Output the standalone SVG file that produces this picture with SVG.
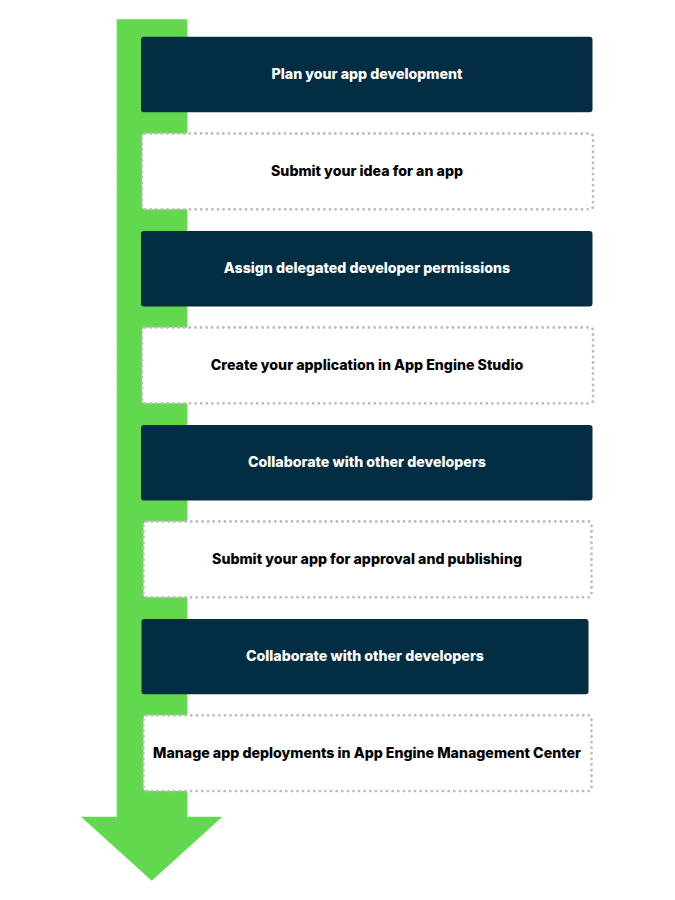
<svg xmlns="http://www.w3.org/2000/svg" width="675" height="900" viewBox="0 0 675 900">
<style>
.dark{fill:#032d42;}
.dot{fill:#ffffff;stroke:#bababa;stroke-width:2.8;stroke-dasharray:0 5.6;stroke-linecap:round;}
.tw{font-family:Inter,"Liberation Sans",sans-serif;font-weight:800;font-size:14.2px;fill:#ffffff;text-anchor:middle;}
.tb{font-family:Inter,"Liberation Sans",sans-serif;font-weight:800;font-size:14.2px;fill:#000000;text-anchor:middle;}
</style>
<rect width="675" height="900" fill="#ffffff"/>
<g id="arrow">
<polygon points="116.7,19.3 187.3,19.3 187.3,816.7 222.3,816.7 151.8,880.7 81,816.7 116.7,816.7" fill="#62d84e"/>
</g>
<g id="connectors"></g>
<g id="n1"><rect class="dark" x="141" y="36.7" width="451.5" height="75.6" rx="3"/><text class="tw" x="367" y="79.3">Plan your app development</text></g>
<g id="n2"><rect class="dot" x="142" y="133.5" width="451" height="75.8" rx="3"/><text class="tb" x="367" y="176">Submit your idea for an app</text></g>
<g id="n3"><rect class="dark" x="141" y="231" width="451.5" height="75.6" rx="3"/><text class="tw" x="367" y="273.3">Assign delegated developer permissions</text></g>
<g id="n4"><rect class="dot" x="142" y="327.5" width="451" height="75.8" rx="3"/><text class="tb" x="367" y="370">Create your application in App Engine Studio</text></g>
<g id="n5"><rect class="dark" x="141" y="425" width="451.5" height="75.6" rx="3"/><text class="tw" x="367" y="467.3">Collaborate with other developers</text></g>
<g id="n6"><rect class="dot" x="143.5" y="521.5" width="448" height="75.8" rx="3"/><text class="tb" x="367" y="564">Submit your app for approval and publishing</text></g>
<g id="n7"><rect class="dark" x="141.5" y="619" width="447" height="75.3" rx="3"/><text class="tw" x="365" y="661.3">Collaborate with other developers</text></g>
<g id="n8"><rect class="dot" x="143.5" y="715.3" width="448" height="75.8" rx="3"/><text class="tb" x="367" y="758">Manage app deployments in App Engine Management Center</text></g>
</svg>
